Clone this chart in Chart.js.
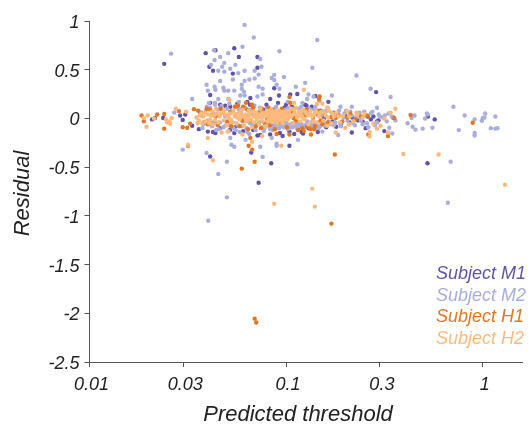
<!DOCTYPE html>
<html>
<head>
<meta charset="utf-8">
<title>Residual vs predicted threshold</title>
<script src="https://cdn.jsdelivr.net/npm/chart.js@4/dist/chart.umd.min.js"></script>
<style>
    html, body { margin: 0; padding: 0; background: #fff; }
    canvas { display: block; }
</style>
</head>
<body>
<canvas id="chart" width="529" height="424"></canvas>
<script>
// Values: [predicted threshold, residual]
const xTicks = [0.01, 0.03, 0.1, 0.3, 1];
const yTicks = [-2.5, -2, -1.5, -1, -0.5, 0, 0.5, 1];
const seriesNames = ['Subject M1', 'Subject M2', 'Subject H1', 'Subject H2'];
const seriesColors = ['#6353a6', '#aaaedb', '#e27623', '#fdba7c'];

const subjectM1 = [
    [.024,.56],[.039,.67],[.0437,.70],[.0545,.72],[.0575,.63],[.0715,.63],[.0407,.53],[.0425,.49],
    [.0715,.52],[.0536,.46],[.0411,.24],[.0658,.21],[.0411,-.39],[.0665,-.35],[.0725,-.66],[.084,-.46],
    [.104,-.28],[.524,-.46],[.287,.27],[.57,-.01],[.527,.02],[.316,-.13],[.254,-.10],[.216,-.145],
    [.087,.31],[.092,.235],[.105,.245],[.114,.25],[.141,.23],[.164,.17],[.083,.2],[.091,.16],
    [.295,-.02],[.278,.02],[.104,-.135],[.096,-.18],[.11,-.16],[.122,-.155],[.138,-.075],[.18,-.085],
    [.217,.01],[.083,-.165],[.156,.005],[.245,-.03],[.0215,.005],[.0237,.005],[.0208,-.01],[.0289,.03],
    [.0307,.04],[.0298,-.015],[.036,-.11],[.040,-.135],[.0437,-.15],[.0545,-.15],[.0715,-.175],[.052,-.115],
    [.0333,-.075],[.0462,.14],[.0411,.16],[.0635,.17],[.0366,.06],[.0433,-.03],[.0475,.07],[.055,-.09],
    [.06,.1],[.068,-.12],[.077,.09],[.088,-.09],[.098,.11],[.115,-.11],[.127,.13],[.15,.08],
    [.172,-.03],[.2,.03],[.232,-.02],[.27,-.01],[.29,-.03],[.35,.01],[.052,.12],[.046,-.1],
    [.071,.05],[.085,-.06],[.125,.14],[.135,.12],[.145,-.14],[.19,-.06],
    [.0425,-.14],[.049,.13],[.0565,.15],[.0605,-.13],[.0655,.14],[.074,-.17],[.0795,.14],[.093,-.15],
    [.1,.14],[.107,.12],[.12,-.14],[.13,-.1],[.16,-.09],[.175,.06],[.21,-.04],[.26,.02]
];

const subjectM2 = [
    [.0615,.96],[.0685,.83],[.026,.665],[.060,.735],[.043,.70],[.0508,.67],[.0462,.63],[.0433,.60],
    [.0485,.57],[.0415,.55],[.0473,.53],[.0552,.55],[.052,.51],[.0452,.49],[.0485,.48],[.0571,.465],
    [.0615,.49],[.0692,.49],[.0725,.45],[.0739,.61],[.075,.53],[.0462,.385],[.0536,.40],[.0615,.385],
    [.065,.40],[.0692,.41],[.0394,.345],[.0433,.325],[.048,.315],[.04,.285],[.0437,.295],[.0485,.285],
    [.0508,.285],[.0545,.285],[.0595,.345],[.0595,.305],[.061,.275],[.0615,.235],[.0585,.235],[.0725,.325],
    [.076,.305],[.0333,.20],[.0405,.16],[.0435,.16],[.0452,.2],[.0508,.2],[.0575,.17],[.0715,.225],
    [.076,.245],[.027,.06],[.0298,-.32],[.0394,-.355],[.0452,-.57],[.05,-.445],[.05,-.81],[.0402,-1.05],
    [.076,-.395],[.0527,-.27],[.0545,-.29],[.0622,-.22],[.0739,-.29],[.052,-.2],[.144,.805],[.0925,.69],
    [.136,.52],[.087,.445],[.0845,.415],[.087,.395],[.0975,.425],[.125,.365],[.0895,.345],[.0925,.305],
    [.112,.325],[.228,.44],[.269,.305],[.34,.22],[.171,.235],[.13,.245],[.128,.2],[.138,.225],
    [.148,.18],[.102,.17],[.121,.16],[.216,.12],[.29,.11],[.189,.12],[.71,.12],[.81,.03],
    [1.03,.05],[1.16,.02],[.91,-.01],[1.0,.005],[1.02,.01],[.99,-.025],[1.1,-.1],[1.16,-.105],
    [1.19,-.1],[.756,-.12],[.91,-.15],[.91,-.175],[.52,.05],[.525,.04],[.45,.03],[.435,.005],
    [.51,0],[.415,-.05],[.44,-.085],[.455,-.115],[.495,-.105],[.555,-.095],[.36,-.02],[.335,-.095],
    [.347,-.155],[.687,-.445],[.665,-.865],[.114,-.47],[.0895,-.26],[.0895,-.28],[.115,-.22],[.0845,-.2],
    [.184,-.17],[.153,-.135],
    // dense band around zero
    [.037,.03],[.038,-.06],[.039,.08],[.04,-.02],[.041,.11],[.042,-.08],[.043,.05],[.044,-.12],
    [.045,.09],[.046,-.04],[.047,.13],[.048,-.09],[.049,.02],[.05,.1],[.051,-.13],[.052,-.05],
    [.053,.08],[.054,-.1],[.055,.04],[.056,.12],[.057,-.07],[.058,-.14],[.059,.06],[.06,-.03],
    [.062,.11],[.063,-.1],[.064,.03],[.065,-.16],[.066,.09],[.067,-.06],[.069,.13],[.07,-.12],
    [.071,.02],[.073,-.04],[.074,.08],[.075,-.09],[.077,-.13],[.078,.05],[.079,-.07],[.08,.1],
    [.082,-.05],[.083,-.11],[.085,.07],[.086,-.08],[.087,-.03],[.089,.12],[.09,-.06],[.092,-.1],
    [.094,.04],[.095,-.08],[.097,-.05],[.099,.09],[.1,-.07],[.102,-.11],[.104,.02],[.106,-.06],
    [.108,-.09],[.11,.08],[.112,-.07],[.114,-.04],[.116,.1],[.118,-.08],[.12,-.06],[.123,.05],
    [.125,-.09],[.128,-.05],[.13,.07],[.133,-.07],[.136,-.03],[.139,.09],[.142,-.06],[.146,-.1],
    [.15,.03],[.155,-.05],[.16,.08],[.165,-.03],[.17,.06],[.175,-.07],[.18,.02],[.186,.08],
    [.192,-.04],[.198,.05],[.205,-.02],[.212,.07],[.22,-.05],[.228,.02],[.236,.06],[.245,-.06],
    [.253,.03],[.262,-.09],[.27,.05],[.283,-.07],[.296,.04],[.31,.01],[.325,-.03],[.345,.02],
    [.0375,-.1],[.0395,.12],[.0415,-.05],[.0435,.14],[.0455,-.11],[.0475,.06],[.0495,-.07],[.0515,.15],
    [.0535,-.04],[.0555,-.12],[.0575,.09],[.0595,-.08],[.0615,.02],[.0635,-.14],[.0655,-.05],[.0675,.05],
    [.0695,-.09],[.0715,-.06],[.0735,.11],[.0755,-.03],[.0775,-.1],[.0795,.03],[.0815,-.08],[.0835,-.04],
    [.0855,-.12],[.0875,.1],[.0895,-.09],[.0915,-.04],[.0935,-.07],[.0955,.07],[.0975,-.09],[.0995,-.03],
    [.1015,-.06],[.1035,.11],[.1055,-.09],[.1075,-.05],[.1095,-.08],[.1115,.03],[.1135,-.09],[.1155,-.05],
    [.1175,-.07],[.1195,.12],[.1225,-.08],[.1255,-.07],[.1285,-.03],[.1315,.1],[.1345,-.09],[.1375,-.06],
    [.141,.12],[.145,-.04],[.149,-.08],[.153,.07],[.158,-.07],[.163,.11],[.168,-.06],[.173,.03],
    [.178,-.04],[.184,.05],[.19,-.08],[.196,.01],[.202,.08],[.209,-.06],[.216,.03],[.224,-.07],
    [.232,.05],[.24,-.02],[.25,.07],[.258,-.05],[.275,.07],[.29,-.04],[.3,.02],[.318,.03],[.332,.05]
];

const subjectH1 = [
    [.0184,.03],[.0189,-.03],[.0221,.04],[.024,.045],[.024,-.105],[.0285,.075],[.0298,-.09],[.0314,-.095],
    [.034,.095],[.0357,.08],[.0325,-.055],[.0317,-.28],[.0595,-.515],[.0692,-.445],[.0645,-.28],[.0672,-.32],
    [.0658,-.2],[.0625,.16],[.06,-.02],[.0625,-.02],[.066,-.02],[.0411,.09],[.0437,.02],[.0448,-.065],
    [.052,.07],[.0692,-2.055],[.0705,-2.095],[.17,-1.08],[.177,-.37],[.89,-.045],[.43,.035],[.355,.005],
    [.33,-.18],[.262,-.165],[.258,.03],[.212,.05],[.193,-.03],[.179,.005],[.17,.015],[.144,.04],
    [.104,.22],[.105,.16],[.147,.2],[.148,.225],[.0895,-.16],[.104,-.165],[.134,-.165],[.128,-.085],
    [.13,-.07],[.121,-.1],[.141,-.075],[.109,.005],[.102,.04],[.0802,.04],[.0802,-.01],[.085,.09],
    [.083,-.07],[.037,.06],[.038,-.04],[.0395,.1],[.0465,.1],[.05,-.03],[.055,.12],[.0555,.03],
    [.058,-.08],[.0635,.09],[.068,.11],[.07,-.08],[.072,.06],[.075,.1],[.078,-.05],[.09,.05],
    [.093,-.03],[.096,.02],[.112,-.02],[.118,.06],[.125,.03],[.133,-.11],[.137,.01],[.15,-.02],
    [.157,.04],[.163,-.04],[.185,.03],[.205,.01],[.225,-.01],[.24,.02],
    [.04,-.06],[.042,.04],[.0455,.03],[.048,.08],[.0525,-.08],[.057,.13],[.0605,.12],[.064,-.11],
    [.067,.14],[.0745,-.1],[.0815,.11],[.0875,-.11],[.095,.1],[.101,-.09],[.107,.07],[.115,-.12],
    [.123,-.13],[.127,.09],[.139,-.11],[.146,.08],[.153,-.06]
];

const subjectH2 = [
    [.0198,.03],[.0189,.005],[.0195,-.085],[.0213,0],[.0245,-.01],[.0248,-.04],[.0257,-.055],[.0262,.005],
    [.0255,-.03],[.0275,.1],[.031,.07],[.0317,-.27],[.04,-.2],[.0425,-.43],[.047,-.145],[.0505,-.135],
    [.0672,-.24],[.0514,.19],[.06,-.165],[.0755,-.18],[.123,.295],[.087,-.875],[.136,-.72],[.14,-.905],
    [.0945,-.28],[.395,-.365],[.597,-.37],[1.3,-.68],[.36,.1],[.34,.06],[.316,0],[.266,-.14],
    [.266,-.185],[.33,-.145],[.302,-.075],[.29,-.105],[.278,-.055],[.245,.005],[.25,.045],[.205,.07],
    [.228,.06],[.22,-.03],[.2,-.095],[.21,-.06],[.179,-.145],[.162,-.075],[.162,.11],[.153,.15],
    [.144,.15],[.11,.16],
    // dense band around zero
    [.035,.01],[.036,-.02],[.037,.05],[.0375,-.05],[.038,.02],[.039,-.03],[.04,.04],[.041,-.01],
    [.042,.07],[.0425,-.06],[.043,.03],[.044,.1],[.0445,.05],[.045,-.04],[.046,.02],[.047,.06],
    [.048,-.02],[.049,.04],[.05,-.07],[.051,.01],[.052,.05],[.053,-.04],[.054,.08],[.055,.02],
    [.056,-.05],[.057,.05],[.058,-.01],[.059,.03],[.06,.09],[.061,-.07],[.062,.04],[.063,-.03],
    [.064,.01],[.065,.06],[.066,.03],[.067,-.09],[.068,.07],[.069,-.04],[.07,.02],[.071,-.01],
    [.072,.04],[.073,-.06],[.074,.1],[.075,.01],[.076,-.03],[.077,.06],[.078,.02],[.079,-.08],
    [.08,.08],[.0805,.03],[.081,-.02],[.082,.06],[.083,.01],[.084,.09],[.085,-.04],[.086,.03],
    [.087,.07],[.088,-.01],[.089,.05],[.09,-.05],[.091,.02],[.092,.08],[.093,.04],[.094,-.02],
    [.095,.06],[.096,-.05],[.097,.01],[.098,.04],[.1,.07],[.102,-.01],[.104,.03],[.106,.1],
    [.108,-.05],[.11,.05],[.112,.11],[.114,.01],[.116,.07],[.118,-.03],[.12,.03],[.122,.09],
    [.124,-.01],[.127,.05],[.13,-.06],[.133,.08],[.136,.02],[.14,.05],[.143,-.04],[.147,.02],
    [.151,.07],[.155,-.02],[.159,.03],[.165,.08],[.17,-.05],[.175,.02],[.18,.06],[.188,-.04],
    [.195,.03],[.21,.02],[.23,.04],
    [.0355,-.05],[.0365,.03],[.0385,.06],[.0405,-.05],[.0415,.03],[.0435,-.02],[.0465,.05],[.0485,.08],
    [.0505,.04],[.0525,-.01],[.0545,.04],[.0565,.01],[.0585,.07],[.0605,.02],[.0625,-.01],[.0645,.08],
    [.0665,-.02],[.0685,.02],[.0705,.06],[.0725,.01],[.0745,.04],[.0765,.02],[.0785,.05],[.0805,-.03],
    [.0815,.05],[.0825,.03],[.0835,.07],[.0845,-.01],[.0855,.02],[.0865,.05],[.0875,0],[.0885,.03],
    [.0895,.08],[.0905,-.02],[.0915,.04],[.0925,.01],[.0945,.03],[.0965,.07],[.0985,-.01],[.1005,.03],
    [.1035,.07],[.1065,.02],[.1095,.09],[.1125,.04],[.1155,.02],[.1185,.06],[.1215,.01],[.1255,.07],
    [.129,.03],[.134,.04],[.138,-.03],[.142,.07],[.148,.05],[.156,.06],[.163,.01],[.172,.05],[.185,.02]
];

const seriesPoints = [subjectM1, subjectM2, subjectH1, subjectH2];

// Axis titles and the coloured legend text sit at fixed spots, no swatches
const chartTexts = {
    id: 'chartTexts',
    afterDraw(chart) {
        const { ctx } = chart;
        ctx.save();
        ctx.textBaseline = 'middle';
        ctx.font = 'italic 18px "Liberation Sans"';
        chart.data.datasets.forEach((ds, i) => {
            ctx.fillStyle = ds.backgroundColor;
            ctx.fillText(ds.label, 436, 274 + i * 21.6);
        });
        ctx.fillStyle = '#222';
        ctx.font = 'italic 22px "Liberation Sans"';
        ctx.textAlign = 'center';
        ctx.fillText('Predicted threshold', 298, 415);
        ctx.translate(23, 193.5);
        ctx.rotate(-Math.PI / 2);
        ctx.fillText('Residual', 0, 0);
        ctx.restore();
    }
};

new Chart(document.getElementById('chart'), {
    type: 'scatter',
    data: {
        datasets: seriesPoints.map((points, i) => ({
            label: seriesNames[i],
            data: points.map(p => ({ x: p[0], y: p[1] })),
            backgroundColor: seriesColors[i],
            pointRadius: 2.2,
            pointBorderWidth: 0,
            order: seriesPoints.length - i // later subjects paint on top
        }))
    },
    options: {
        responsive: false,
        animation: false,
        layout: { padding: { top: 21, right: 7, left: 0, bottom: 0 } },
        plugins: {
            legend: { display: false },
            tooltip: { enabled: false }
        },
        scales: {
            x: {
                type: 'logarithmic',
                min: 0.01,
                max: 1.585,
                afterFit: scale => { scale.height = 62; },
                afterBuildTicks: scale => { scale.ticks = xTicks.map(value => ({ value })); },
                grid: { drawOnChartArea: false, tickLength: 5, color: '#555' },
                border: { color: '#555', width: 1 },
                ticks: {
                    autoSkip: false,
                    maxRotation: 0,
                    color: '#222',
                    padding: 7,
                    labelOffset: 2,
                    font: { family: 'Liberation Sans', size: 18, style: 'italic' },
                    callback: value => String(value)
                }
            },
            y: {
                min: -2.5,
                max: 1,
                afterFit: scale => { scale.width = 89.5; },
                afterBuildTicks: scale => { scale.ticks = yTicks.map(value => ({ value })); },
                grid: { drawOnChartArea: false, tickLength: 5, color: '#555' },
                border: { color: '#555', width: 1 },
                ticks: {
                    color: '#222',
                    padding: 5,
                    labelOffset: 2,
                    font: { family: 'Liberation Sans', size: 18, style: 'italic' },
                    callback: value => String(value)
                }
            }
        }
    },
    plugins: [chartTexts]
});
</script>
</body>
</html>
